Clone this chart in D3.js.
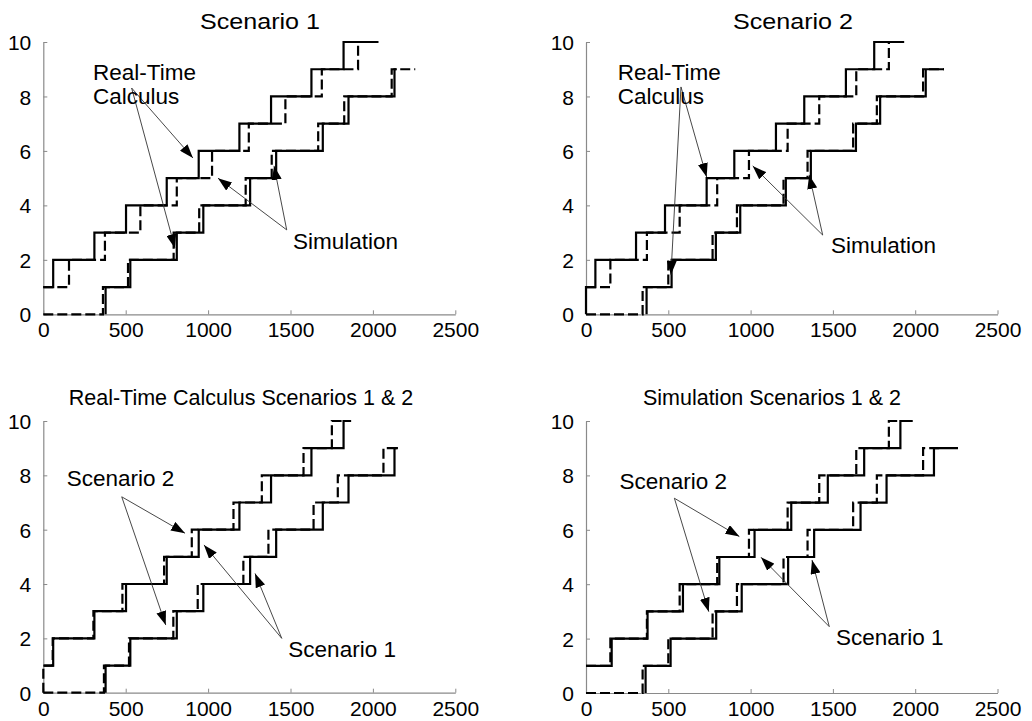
<!DOCTYPE html>
<html><head><meta charset="utf-8">
<script src="https://cdn.jsdelivr.net/npm/d3@7"></script>
<style>
html,body{margin:0;padding:0;background:#fff;}
svg text{font-family:"Liberation Sans",Arial,Helvetica,sans-serif;fill:#000;}
</style></head>
<body><svg id="c" width="1032" height="721"></svg>
<script>
// ---- data (x = time at which the count steps up by one) ----
const xTicks = [0, 500, 1000, 1500, 2000, 2500];
const yTicks = [0, 2, 4, 6, 8, 10];

const s1RtcUpperStart = 1;
const s1RtcUpperSteps = [60, 310, 502, 749, 943, 1190, 1382, 1627, 1822];
const s1RtcLowerStart = 0;
const s1RtcLowerSteps = [378, 528, 810, 971, 1255, 1413, 1696, 1852, 2131];

const s1SimUpperStart = 1;
const s1SimUpperSteps = [156, 374, 589, 810, 1024, 1247, 1469, 1690, 1910];
const s1SimLowerStart = 0;
const s1SimLowerSteps = [362, 514, 791, 946, 1228, 1386, 1668, 1826, 2114];

const s2RtcUpperStart = 0;
const s2RtcUpperSteps = [0, 57, 304, 480, 733, 901, 1154, 1326, 1579, 1751];
const s2RtcLowerStart = 0;
const s2RtcLowerSteps = [368, 520, 789, 937, 1214, 1366, 1640, 1787, 2064];

const s2SimUpperStart = 1;
const s2SimUpperSteps = [148, 370, 569, 797, 990, 1225, 1417, 1642, 1840];
const s2SimLowerStart = 0;
const s2SimLowerSteps = [344, 500, 769, 917, 1200, 1346, 1623, 1767, 2048];

// end x of each curve, per panel
const p1Ends = {rtcU: 2034, rtcL: 2145, simU: 2000, simL: 2257};
const p2Ends = {rtcU: 1933, rtcL: 2175, simU: 1900, simL: 2175};
const p3Ends = {s1U: 1868, s1L: 2152, s2U: 1820, s2L: 2150};
const p4Ends = {s1U: 1985, s1L: 2260, s2U: 1900, s2L: 2170};

const titles = ["Scenario 1", "Scenario 2", "Real-Time Calculus Scenarios 1 & 2", "Simulation Scenarios 1 & 2"];

// annotations in data units: label lines, label position, arrow origin, arrow tips
const annP1 = [
  {lines: ["Real-Time", "Calculus"], lx: 302, ly: 8.62, ox: 536, oy: 8.31, tips: [[908, 5.74], [799, 2.43]]},
  {lines: ["Simulation"], lx: 1515, ly: 2.38, ox: 1477, oy: 3.1, tips: [[1060, 5.0], [1400, 5.45]]}
];
const annP2 = [
  {lines: ["Real-Time", "Calculus"], lx: 193, ly: 8.62, ox: 577, oy: 8.35, tips: [[733, 5.04], [516, 1.45]]},
  {lines: ["Simulation"], lx: 1488, ly: 2.25, ox: 1438, oy: 2.91, tips: [[1013, 5.45], [1356, 5.12]]}
];
const annP3 = [
  {lines: ["Scenario 2"], lx: 142, ly: 7.61, ox: 476, oy: 7.21, tips: [[860, 5.87], [743, 2.49]]},
  {lines: ["Scenario 1"], lx: 1487, ly: 1.32, ox: 1447, oy: 2.0, tips: [[975, 5.44], [1285, 4.39]]}
];
const annP4 = [
  {lines: ["Scenario 2"], lx: 203, ly: 7.5, ox: 537, oy: 7.16, tips: [[932, 5.75], [746, 2.99]]},
  {lines: ["Scenario 1"], lx: 1519, ly: 1.76, ox: 1478, oy: 2.44, tips: [[1063, 4.99], [1373, 4.89]]}
];

// ---- drawing ----
const svg = d3.select("#c");
svg.append("rect").attr("width", 1032).attr("height", 721).attr("fill", "#fff");
svg.append("defs").append("marker")
  .attr("id", "ah").attr("viewBox", "0 0 14 10").attr("refX", 14).attr("refY", 5)
  .attr("markerWidth", 14).attr("markerHeight", 10).attr("markerUnits", "userSpaceOnUse")
  .attr("orient", "auto")
  .append("path").attr("d", "M0,0 L14,5 L0,10 Z").attr("fill", "#000");

// upper curves start at x = 0; lower curves begin at their first step
function stepPoints(start, steps, end, fromZero) {
  const pts = [[fromZero ? 0 : steps[0], start]];
  steps.forEach((s, i) => pts.push([s, start + i + 1]));
  pts.push([end, start + steps.length]);
  return pts;
}

const panels = [
  {left: 43.3, right: 455.3, top: 42, bottom: 314.3, title: titles[0], tx: 260, ty: 29, tsize: 22, tlen: 120,
   series: [
     {pts: stepPoints(s1SimUpperStart, s1SimUpperSteps, p1Ends.simU, true), dash: true},
     {pts: stepPoints(s1SimLowerStart, s1SimLowerSteps, p1Ends.simL, true), dash: true},
     {pts: stepPoints(s1RtcUpperStart, s1RtcUpperSteps, p1Ends.rtcU, true), dash: false},
     {pts: stepPoints(s1RtcLowerStart, s1RtcLowerSteps, p1Ends.rtcL, false), dash: false}],
   ann: annP1},
  {left: 586, right: 997.5, top: 42, bottom: 314.3, title: titles[1], tx: 793, ty: 29, tsize: 22, tlen: 120,
   series: [
     {pts: stepPoints(s2SimUpperStart, s2SimUpperSteps, p2Ends.simU, true), dash: true},
     {pts: stepPoints(s2SimLowerStart, s2SimLowerSteps, p2Ends.simL, true), dash: true},
     {pts: stepPoints(s2RtcUpperStart, s2RtcUpperSteps, p2Ends.rtcU, true), dash: false},
     {pts: stepPoints(s2RtcLowerStart, s2RtcLowerSteps, p2Ends.rtcL, false), dash: false}],
   ann: annP2},
  {left: 43.3, right: 455.3, top: 421, bottom: 692.7, title: titles[2], tx: 241, ty: 405, tsize: 21.5, tlen: null,
   series: [
     {pts: stepPoints(s2RtcUpperStart, s2RtcUpperSteps, p3Ends.s2U, true), dash: true},
     {pts: stepPoints(s2RtcLowerStart, s2RtcLowerSteps, p3Ends.s2L, true), dash: true},
     {pts: stepPoints(s1RtcUpperStart, s1RtcUpperSteps, p3Ends.s1U, true), dash: false},
     {pts: stepPoints(s1RtcLowerStart, s1RtcLowerSteps, p3Ends.s1L, false), dash: false}],
   ann: annP3},
  {left: 586, right: 997.5, top: 421, bottom: 693, title: titles[3], tx: 772, ty: 405, tsize: 21.5, tlen: null,
   series: [
     {pts: stepPoints(s2SimUpperStart, s2SimUpperSteps, p4Ends.s2U, true), dash: true},
     {pts: stepPoints(s2SimLowerStart, s2SimLowerSteps, p4Ends.s2L, true), dash: true},
     {pts: stepPoints(s1SimUpperStart, s1SimUpperSteps, p4Ends.s1U, true), dash: false},
     {pts: stepPoints(s1SimLowerStart, s1SimLowerSteps, p4Ends.s1L, false), dash: false}],
   ann: annP4}
];

panels.forEach(p => {
  const x = d3.scaleLinear().domain([0, 2500]).range([p.left, p.right]);
  const y = d3.scaleLinear().domain([0, 10]).range([p.bottom, p.top]);
  const g = svg.append("g");

  // axes
  const xa = g.append("g").attr("transform", `translate(0,${p.bottom})`)
    .call(d3.axisBottom(x).tickValues(xTicks).tickFormat(d3.format("d"))
      .tickSizeInner(-4).tickSizeOuter(0).tickPadding(8));
  const ya = g.append("g").attr("transform", `translate(${p.left},0)`)
    .call(d3.axisLeft(y).tickValues(yTicks).tickFormat(d3.format("d"))
      .tickSizeInner(-4).tickSizeOuter(0).tickPadding(12));
  [xa, ya].forEach(a => {
    a.select(".domain").attr("stroke", "#8a8a8a").attr("stroke-width", 1.2);
    a.selectAll(".tick line").attr("stroke", "#8a8a8a");
    a.selectAll(".tick text").attr("font-size", 21).attr("fill", "#000")
      .attr("font-family", '"Liberation Sans",Arial,sans-serif');
  });
  xa.selectAll(".tick text").attr("dy", "0.71em").attr("y", 8);
  ya.selectAll(".tick text").attr("dy", "0.36em");

  // title
  const t = g.append("text").attr("x", p.tx).attr("y", p.ty).attr("text-anchor", "middle")
    .attr("font-size", p.tsize).text(p.title);
  if (p.tlen) t.attr("textLength", p.tlen).attr("lengthAdjust", "spacingAndGlyphs");

  // curves
  const line = d3.line().x(d => x(d[0])).y(d => y(d[1])).curve(d3.curveStepAfter);
  p.series.forEach(s => {
    g.append("path").datum(s.pts).attr("d", line).attr("fill", "none")
      .attr("stroke", "#000").attr("stroke-width", 2.2)
      .attr("stroke-dasharray", s.dash ? "10,4" : null);
  });

  // annotations
  p.ann.forEach(a => {
    a.tips.forEach(tp => {
      g.append("line").attr("x1", x(a.ox)).attr("y1", y(a.oy))
        .attr("x2", x(tp[0])).attr("y2", y(tp[1]))
        .attr("stroke", "#333").attr("stroke-width", 0.9).attr("marker-end", "url(#ah)");
    });
    a.lines.forEach((l, i) => {
      g.append("text").attr("x", x(a.lx)).attr("y", y(a.ly) + i * 24)
        .attr("font-size", 22.5).text(l);
    });
  });
});
</script></body></html>
